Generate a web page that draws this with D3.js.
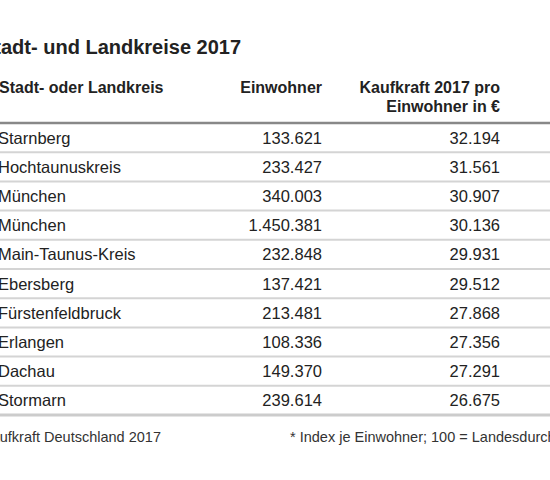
<!DOCTYPE html>
<html><head><meta charset="utf-8">
<script src="https://cdn.jsdelivr.net/npm/d3@7"></script>
<style>body{margin:0;background:#fff}text{font-family:"Liberation Sans",Arial,sans-serif}</style>
</head><body>
<svg id="chart" width="550" height="480"></svg>
<script>
// table data
const kreise = ["Starnberg","Hochtaunuskreis","München","München","Main-Taunus-Kreis","Ebersberg","Fürstenfeldbruck","Erlangen","Dachau","Stormarn"];
const einwohner = [133621,233427,340003,1450381,232848,137421,213481,108336,149370,239614];
const kaufkraft = [32194,31561,30907,30136,29931,29512,27868,27356,27291,26675];

const fmt = v => d3.format(",")(v).replace(/,/g, ".");
const svg = d3.select("#chart");

// rows on a band scale
const y = d3.scaleBand().domain(d3.range(kreise.length)).range([123, 415]);

svg.append("text").attr("x", -19).attr("y", 54)
  .style("font-size", "20px").style("font-weight", "bold").attr("fill", "#222")
  .text("Stadt- und Landkreise 2017");

const head = svg.append("g").style("font-size", "16px").style("font-weight", "bold").attr("fill", "#222");
head.append("text").attr("x", -1).attr("y", 93).text("Stadt- oder Landkreis");
head.append("text").attr("x", 322).attr("y", 93).attr("text-anchor", "end").text("Einwohner");
head.append("text").attr("x", 500).attr("y", 93).attr("text-anchor", "end").text("Kaufkraft 2017 pro");
head.append("text").attr("x", 500).attr("y", 112).attr("text-anchor", "end").text("Einwohner in €");

svg.append("line").attr("x1", 0).attr("x2", 550).attr("y1", 123).attr("y2", 123)
  .attr("stroke", "#888").attr("stroke-width", 2.5);

const rows = svg.selectAll("g.row").data(kreise).join("g").attr("class", "row")
  .attr("transform", (d, i) => `translate(0,${y(i)})`)
  .style("font-size", "16.5px").attr("fill", "#222");

rows.append("text").attr("x", -2).attr("y", y.bandwidth() / 2 + 6).text(d => d);
rows.append("text").attr("x", 322).attr("y", y.bandwidth() / 2 + 6).attr("text-anchor", "end").text((d, i) => fmt(einwohner[i]));
rows.append("text").attr("x", 500).attr("y", y.bandwidth() / 2 + 6).attr("text-anchor", "end").text((d, i) => fmt(kaufkraft[i]));
rows.filter((d, i) => i > 0).append("line").attr("x1", 0).attr("x2", 550).attr("y1", 0).attr("y2", 0)
  .attr("stroke", "#d4d4d4").attr("stroke-width", 2);

svg.append("line").attr("x1", 0).attr("x2", 550).attr("y1", 415).attr("y2", 415)
  .attr("stroke", "#ccc").attr("stroke-width", 3);

const foot = svg.append("g").style("font-size", "14.5px").attr("fill", "#333");
foot.append("text").attr("x", -18).attr("y", 442).text("Kaufkraft Deutschland 2017");
foot.append("text").attr("x", 290).attr("y", 442).text("* Index je Einwohner; 100 = Landesdurchschnitt");
</script>
</body></html>
